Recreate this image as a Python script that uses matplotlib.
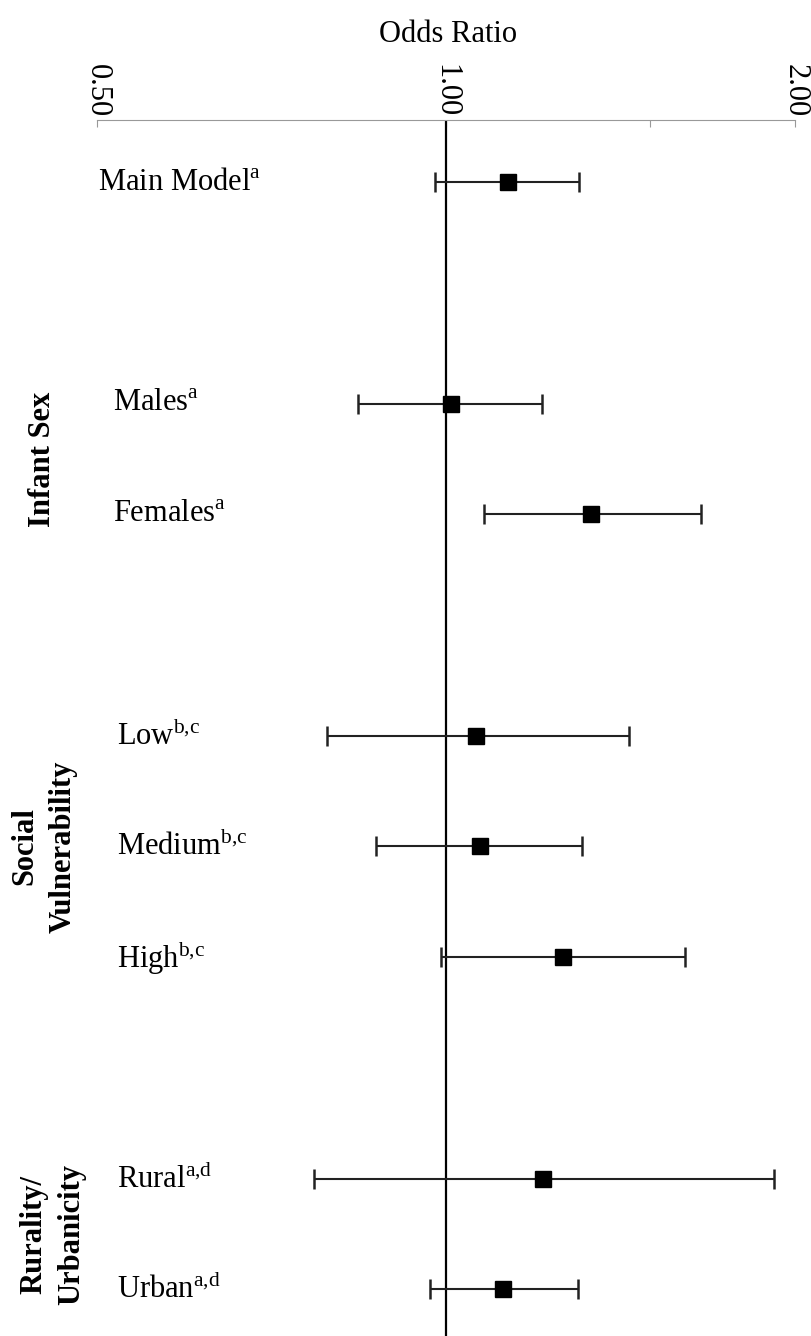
import numpy as np
import matplotlib.pyplot as plt
from matplotlib.ticker import FixedLocator, NullLocator

plt.rcParams['font.family'] = ['Liberation Serif', 'DejaVu Serif']
plt.rcParams['mathtext.fontset'] = 'custom'
plt.rcParams['mathtext.rm'] = 'Liberation Serif'

# forest plot data
labels = ['Main Model$^{\\mathrm{a}}$', 'Males$^{\\mathrm{a}}$', 'Females$^{\\mathrm{a}}$',
          'Low$^{\\mathrm{b{,}c}}$', 'Medium$^{\\mathrm{b{,}c}}$', 'High$^{\\mathrm{b{,}c}}$',
          'Rural$^{\\mathrm{a{,}d}}$', 'Urban$^{\\mathrm{a{,}d}}$']
rows = [0, 2, 3, 5, 6, 7, 9, 10]
odds = [1.131, 1.010, 1.335, 1.062, 1.070, 1.262, 1.213, 1.120]
ci_low = [0.979, 0.839, 1.079, 0.789, 0.870, 0.990, 0.769, 0.969]
ci_high = [1.302, 1.211, 1.659, 1.437, 1.311, 1.606, 1.918, 1.300]

groups = ['Infant Sex', 'Social\nVulnerability', 'Rurality/\nUrbanicity']
group_rows = [2.5, 6.0, 9.5]
group_x = [42, 44, 53]

tick_vals = [0.5, 1.0, 1.5, 2.0]
tick_text = ['0.50', '1.00', '', '2.00']

W, H = 811, 1336
AX_L, AX_R, AX_T = 97, 795, 120
fig = plt.figure(figsize=(W / 100, H / 100), dpi=100)
ax = fig.add_axes([AX_L / W, 0, (AX_R - AX_L) / W, 1 - AX_T / H])

odds = np.array(odds)
err = [odds - np.array(ci_low), np.array(ci_high) - odds]
ax.errorbar(odds, rows, xerr=err, fmt='s', color='black', ecolor='#222222',
            elinewidth=1.5, capsize=7, capthick=1.8, markersize=12, zorder=3)
ax.axvline(1.0, color='black', lw=1.6, zorder=2)

ax.set_xscale('log')
ax.set_xlim(0.5, 2.0)
ax.set_ylim(10.42, -0.56)

ax.xaxis.set_major_locator(FixedLocator(tick_vals))
ax.xaxis.set_minor_locator(NullLocator())
ax.set_xticklabels(tick_text, rotation=-90, fontsize=22)
ax.xaxis.tick_top()
ax.tick_params(axis='x', direction='in', length=5, color='#999999', pad=2)
ax.set_yticks([])
for s in ['left', 'right', 'bottom']:
    ax.spines[s].set_visible(False)
ax.spines['top'].set_color('#999999')
ax.spines['top'].set_linewidth(0.8)

fig.text(448 / W, 1 - 35 / H, 'Odds Ratio', ha='center', va='center', fontsize=22)

label_x = [98, 113, 113, 117, 117, 117, 117, 117]
for lab, r, lx in zip(labels, rows, label_x):
    ax.text((lx - AX_L) / (AX_R - AX_L), r, lab, transform=ax.get_yaxis_transform(),
            ha='left', va='center', fontsize=22)

for g, r, gx in zip(groups, group_rows, group_x):
    ax.text((gx - AX_L) / (AX_R - AX_L), r, g, transform=ax.get_yaxis_transform(),
            ha='center', va='center', rotation=90, fontsize=22, fontweight='bold',
            linespacing=1.4, multialignment='center', clip_on=False)

fig.savefig('out.png', dpi=100)
